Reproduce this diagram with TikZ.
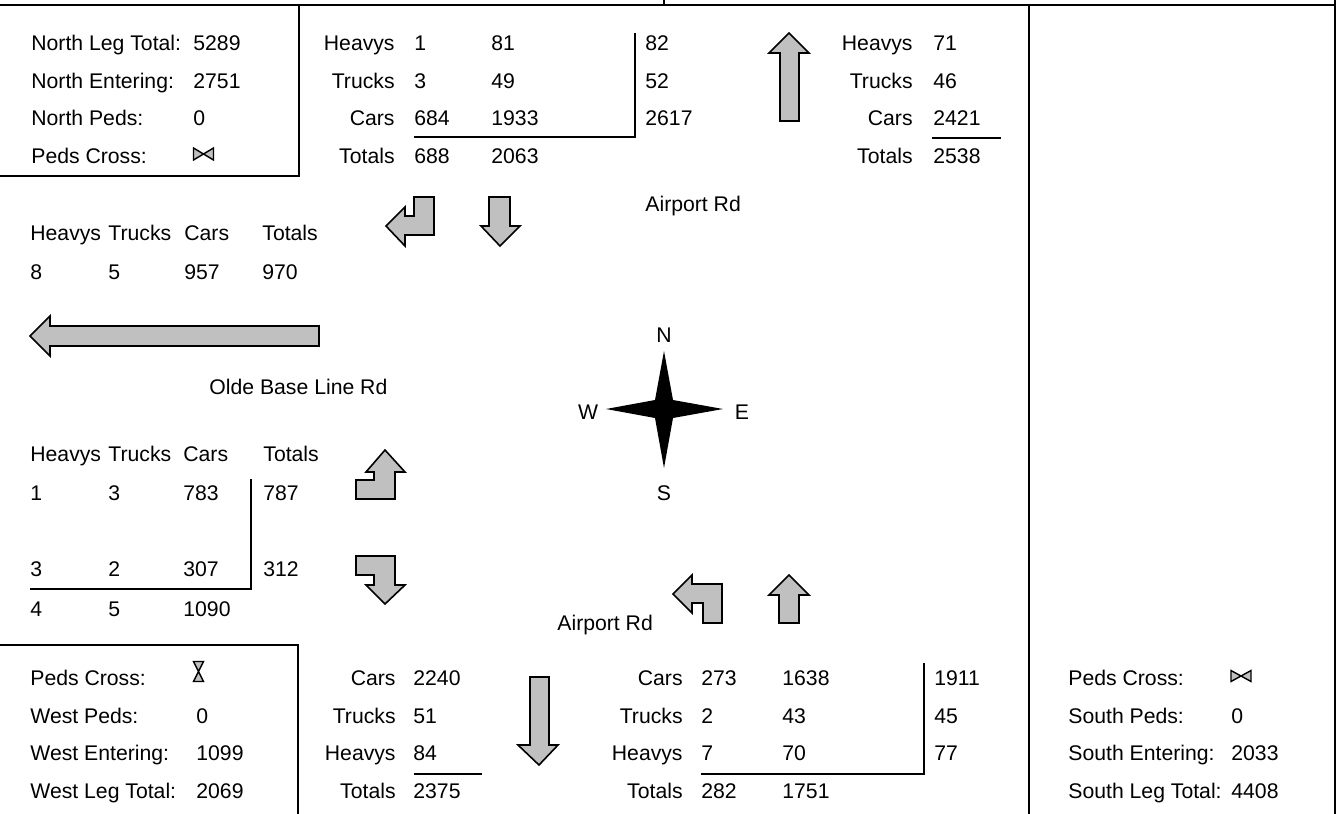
\documentclass[tikz,border=0pt]{standalone}
\usepackage{fontspec}
\setmainfont{Liberation Sans}
\usetikzlibrary{positioning}
\definecolor{ArrowGray}{HTML}{C0C0C0}

\tikzset{
  txt/.style={font=\fontsize{10.6}{12.7}\selectfont,inner sep=0pt,anchor=base west},
  rtxt/.style={txt,anchor=base east},
  ctxt/.style={txt,anchor=center},
  blockarrow/.style={draw=black,fill=ArrowGray,line width=0.8pt,line join=miter},
  rule/.style={line width=1pt},
  pedsym/.style={draw=black,fill=ArrowGray,line width=0.7pt,line join=miter},
}

\begin{document}
\begin{tikzpicture}[x=0.5pt,y=-0.5pt]
  \useasboundingbox (0,0) rectangle (1339,814);

  % frame and leg boxes
  \draw[rule] (0,5) -- (1335,5);
  \draw[rule] (664,0) -- (664,5);
  \draw[rule] (1335,0) -- (1335,814);
  \draw[rule] (299,5) -- (299,176) -- (0,176);
  \draw[rule] (0,645) -- (298,645) -- (298,814);
  \draw[rule] (1029,5) -- (1029,814);

  % north leg box
  \foreach \lab/\val [count=\i] in {North Leg Total:/5289, North Entering:/2751, North Peds:/0, Peds Cross:/}{
    \pgfmathsetmacro{\yb}{13+37.5*\i}
    \node[txt] (nl\i) at (31,\yb) {\lab};
    \node[txt] (nv\i) at (193,\yb) {\val};
  }
  \draw[pedsym] (193.5,148) -- (213.5,160) -- (213.5,148) -- (193.5,160) -- cycle;

  % north approach, leaving
  \foreach \lab/\a/\b/\c [count=\i] in {Heavys/1/81/82, Trucks/3/49/52, Cars/684/1933/2617, Totals/688/2063/}{
    \pgfmathsetmacro{\yb}{13+37.5*\i}
    \node[rtxt] (nm\i) at (395,\yb) {\lab};
    \node[txt] (na\i) at (414,\yb) {\a};
    \node[txt] (nb\i) at (491,\yb) {\b};
    \node[txt] (nc\i) at (645,\yb) {\c};
  }
  \draw[rule] (414,137) -- (635,137) -- (635,33);

  % north approach, entering
  \foreach \lab/\a [count=\i] in {Heavys/71, Trucks/46, Cars/2421, Totals/2538}{
    \pgfmathsetmacro{\yb}{13+37.5*\i}
    \node[rtxt] (em\i) at (913,\yb) {\lab};
    \node[txt] (ea\i) at (933,\yb) {\a};
  }
  \draw[rule] (932,138) -- (1001,138);
  \draw[blockarrow] (789,33) -- (809,53) -- (799,53) -- (799,121) -- (780,121) -- (780,53) -- (769,53) -- cycle;

  % north turning arrows
  \draw[blockarrow] (414,197) -- (434,197) -- (434,235) -- (405,235) -- (405,246) -- (386,226) -- (405,207) -- (405,216) -- (414,216) -- cycle;
  \draw[blockarrow] (489,197) -- (510,197) -- (510,226) -- (520,226) -- (500,246) -- (481,226) -- (489,226) -- cycle;
  \node[txt] (rdn) at (645,211.5) {Airport Rd};

  % west leg, leaving
  \foreach \lab/\val/\x [count=\i] in {Heavys/8/30, Trucks/5/108, Cars/957/184, Totals/970/262}{
    \node[txt] (wh\i) at (\x,240.5) {\lab};
    \node[txt] (wv\i) at (\x,279.5) {\val};
  }
  \draw[blockarrow] (30,336) -- (50,316) -- (50,326) -- (319,326) -- (319,346) -- (50,346) -- (50,356) -- cycle;
  \node[txt] (rdw) at (209,394.5) {Olde Base Line Rd};

  % compass
  \fill (664,351) -- (673,400) -- (723,409) -- (673,418) -- (664,468) -- (655,418) -- (606,409) -- (655,400) -- cycle;
  \node[ctxt] (cn) at (664,335) {N};
  \node[ctxt] (cs) at (664,493) {S};
  \node[ctxt] (cw) at (588,412) {W};
  \node[ctxt] (ce) at (742,412) {E};

  % west leg, entering
  \foreach \lab/\a/\b/\c/\x [count=\i] in {Heavys/1/3/4/30, Trucks/3/2/5/108, Cars/783/307/1090/183, Totals/787/312//263}{
    \node[txt] (wl\i) at (\x,461.5) {\lab};
    \node[txt] (wa\i) at (\x,500.5) {\a};
    \node[txt] (wb\i) at (\x,576.5) {\b};
    \node[txt] (wc\i) at (\x,616.5) {\c};
  }
  \draw[rule] (30,589) -- (251,589) -- (251,479);
  \draw[blockarrow] (356,499) -- (395,499) -- (395,472) -- (405,472) -- (385,450) -- (366,472) -- (374,472) -- (374,480) -- (356,480) -- cycle;
  \draw[blockarrow] (356,556) -- (395,556) -- (395,585) -- (405,585) -- (385,604) -- (366,585) -- (374,585) -- (374,575) -- (356,575) -- cycle;

  % south turning arrows
  \draw[blockarrow] (703,623) -- (722,623) -- (722,584) -- (692,584) -- (692,575) -- (673,594) -- (692,613) -- (692,603) -- (703,603) -- cycle;
  \draw[blockarrow] (789,575) -- (809,595) -- (799,595) -- (799,623) -- (779,623) -- (779,595) -- (769,595) -- cycle;
  \node[txt] (rds) at (557,630.5) {Airport Rd};

  % west leg box
  \foreach \lab/\val [count=\i] in {Peds Cross:/, West Peds:/0, West Entering:/1099, West Leg Total:/2069}{
    \pgfmathsetmacro{\yb}{648+37.5*\i}
    \node[txt] (wp\i) at (30,\yb) {\lab};
    \node[txt] (wq\i) at (196,\yb) {\val};
  }
  \draw[pedsym] (193.5,661.5) -- (203.5,661.5) -- (193.5,681.5) -- (203.5,681.5) -- cycle;

  % south leg, leaving
  \foreach \lab/\a [count=\i] in {Cars/2240, Trucks/51, Heavys/84, Totals/2375}{
    \pgfmathsetmacro{\yb}{648+37.5*\i}
    \node[rtxt] (sm\i) at (396,\yb) {\lab};
    \node[txt] (sa\i) at (413,\yb) {\a};
  }
  \draw[rule] (414,774) -- (482,774);
  \draw[blockarrow] (530,677) -- (549,677) -- (549,745) -- (558,745) -- (539,765) -- (518,745) -- (530,745) -- cycle;

  % south leg, entering
  \foreach \lab/\a/\b/\c [count=\i] in {Cars/273/1638/1911, Trucks/2/43/45, Heavys/7/70/77, Totals/282/1751/}{
    \pgfmathsetmacro{\yb}{648+37.5*\i}
    \node[rtxt] (tm\i) at (683,\yb) {\lab};
    \node[txt] (ta\i) at (701,\yb) {\a};
    \node[txt] (tb\i) at (782,\yb) {\b};
    \node[txt] (tc\i) at (934,\yb) {\c};
  }
  \draw[rule] (701,774) -- (924,774) -- (924,663);

  % south leg box
  \foreach \lab/\val [count=\i] in {Peds Cross:/, South Peds:/0, South Entering:/2033, South Leg Total:/4408}{
    \pgfmathsetmacro{\yb}{648+37.5*\i}
    \node[txt] (sp\i) at (1068,\yb) {\lab};
    \node[txt] (sq\i) at (1231,\yb) {\val};
  }
  \draw[pedsym] (1231,670.5) -- (1251,681.5) -- (1251,670.5) -- (1231,681.5) -- cycle;
\end{tikzpicture}
\end{document}
